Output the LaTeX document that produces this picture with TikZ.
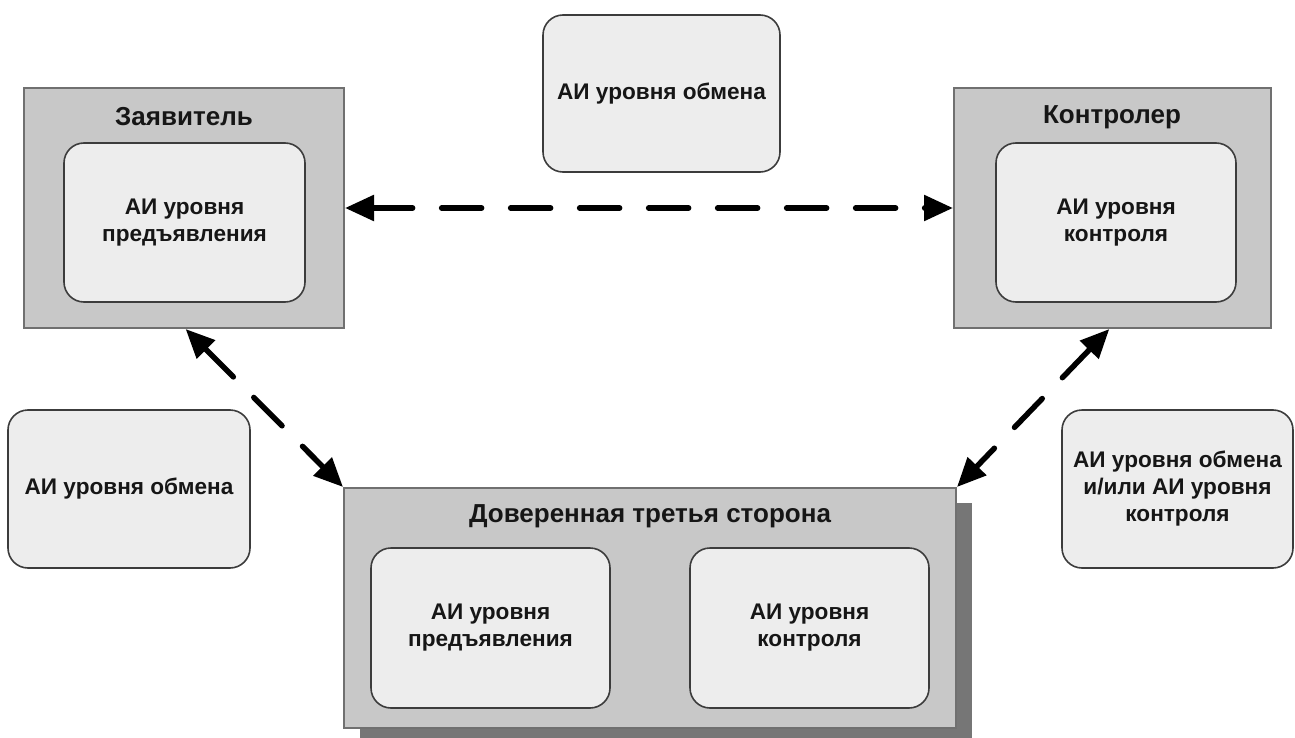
\documentclass[tikz,border=0pt]{standalone}
\usepackage{fontspec}
\setmainfont{Liberation Sans}
\usetikzlibrary{arrows.meta,calc,shadows}

\definecolor{framegray}{HTML}{C8C8C8}
\definecolor{framedraw}{HTML}{707070}
\definecolor{cardfill}{HTML}{EDEDED}
\definecolor{carddraw}{HTML}{3C3C3C}
\definecolor{shadowgray}{HTML}{767676}
\definecolor{inkblack}{HTML}{161616}

\tikzset{
  party/.style={draw=framedraw, line width=2pt, fill=framegray, inner sep=0pt},
  card/.style={draw=carddraw, line width=1.6pt, fill=cardfill, rounded corners=20pt,
    inner sep=0pt, align=center, text=inkblack,
    font=\bfseries\fontsize{22.6}{27}\selectfont},
  partytitle/.style={text=inkblack, inner sep=0pt,
    font=\bfseries\fontsize{26}{30}\selectfont},
  link/.style={draw=black, line width=5.5pt, dash pattern=on 40pt off 29pt,
    line cap=round, >={Triangle[length=29pt,width=25pt]}, <->},
}

\begin{document}
\begin{tikzpicture}[x=1pt, y=-1pt]
  \useasboundingbox (0,0) rectangle (1295,738);

  % applicant
  \node[party, minimum width=320pt, minimum height=240pt] (z) at (184,208) {};
  \node[partytitle] (zt) at (184,117) {Заявитель};
  \node[card, minimum width=241pt, minimum height=159pt] (zi) at (184.5,222.5)
    {АИ уровня\\предъявления};

  % controller
  \node[party, minimum width=317pt, minimum height=240pt] (k) at (1112.5,208) {};
  \node[partytitle] (kt) at (1112,117) {Контролер};
  \node[card, minimum width=240pt, minimum height=159pt] (ki) at (1116,222.5)
    {АИ уровня\\контроля};

  % trusted third party
  \node[party, drop shadow={shadow xshift=16pt, shadow yshift=-15pt,
      fill=shadowgray, opacity=1},
    minimum width=612pt, minimum height=240pt] (t) at (650,608) {};
  \node[partytitle] (tt) at (650,516) {Доверенная третья сторона};
  \node[card, minimum width=239pt, minimum height=160pt] (tl) at (490.5,628)
    {АИ уровня\\предъявления};
  \node[card, minimum width=239pt, minimum height=160pt] (tr) at (809.5,628)
    {АИ уровня\\контроля};

  % exchange-level labels beside the links
  \node[card, minimum width=237pt, minimum height=157pt] (xtop) at (661.5,93.5)
    {АИ уровня обмена};
  \node[card, minimum width=242pt, minimum height=158pt] (xleft) at (129,489)
    {АИ уровня обмена};
  \node[card, minimum width=231pt, minimum height=158pt] (xright) at (1177.5,489)
    {АИ уровня обмена\\и/или АИ уровня\\контроля};

  % links
  \draw[link] (z.east) -- (k.west);
  \draw[link] ($(z.south west)!0.505!(z.south east)$) -- (t.north west);
  \draw[link] ($(k.south west)!0.49!(k.south east)$) -- (t.north east);
\end{tikzpicture}
\end{document}
